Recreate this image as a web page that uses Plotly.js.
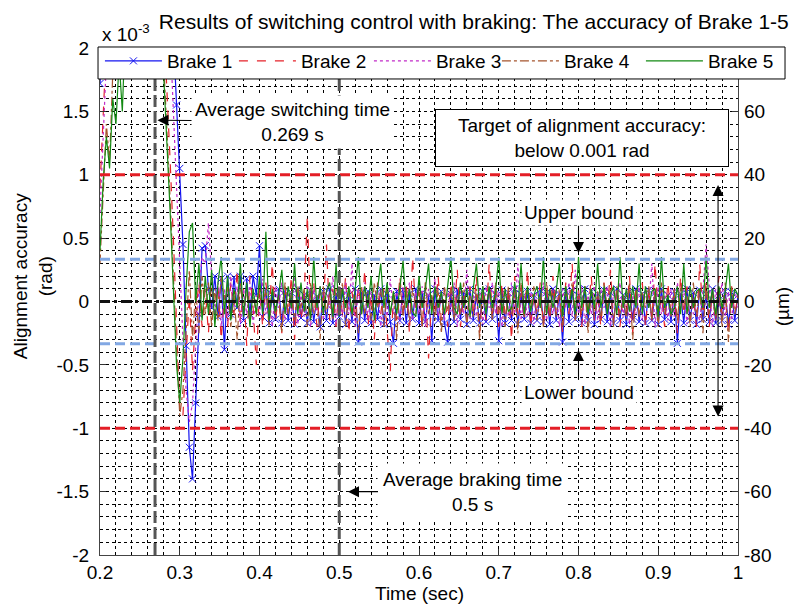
<!DOCTYPE html>
<html>
<head>
<meta charset="utf-8">
<script src="https://cdn.plot.ly/plotly-3.0.1.min.js"></script>
<style>html,body{margin:0;padding:0;background:#fff;}#chart{width:799px;height:608px;}</style>
</head>
<body>
<div id="chart"></div>
<script>
// ---------- data (alignment accuracy in units of 1e-3 rad) ----------
const startTime = 0.2;     // s
const sampleStep = 0.004;  // s
const seriesNames = ['Brake 1', 'Brake 2', 'Brake 3', 'Brake 4', 'Brake 5'];

const brake1 = [
  1.72, 2.3, 2.6, 2.7, 2.8, 2.8, 2.9, 2.9, 3.0, 3.0,
  3.0, 3.0, 2.9, 2.9, 2.9, 2.8, 2.8, 2.7, 2.7, 2.6,
  2.5, 2.4, 2.3, 2.1, 1.55, 1.05, 0.45, -0.35, -1.15, -1.4,
  -0.8, -0.1, 0.42, 0.44, 0.1, -0.05, 0.2, -0.12, 0.18, -0.38,
  0.2, -0.1, 0.19, -0.05, 0.2, -0.15, 0.18, -0.1, 0.2, 0.05,
  0.44, -0.12, 0.1, -0.17, 0.06, -0.14, 0.1, -0.17, 0.08, -0.15,
  0.07, -0.18, 0.1, -0.13, 0.05, -0.17, 0.09, -0.16, 0.04, -0.2,
  0.08, -0.15, 0.1, -0.17, 0.06, -0.12, 0.09, -0.18, 0.05, -0.16,
  0.1, -0.32, 0.07, -0.15, 0.08, -0.17, 0.05, -0.14, 0.1, -0.18,
  0.06, -0.16, -0.33, 0.08, -0.15, 0.09, -0.17, 0.06, -0.14, 0.1,
  -0.17, 0.07, -0.16, 0.05, -0.31, 0.1, -0.15, 0.08, -0.17, -0.32,
  0.06, -0.16, 0.09, -0.14, 0.07, -0.18, 0.1, -0.15, 0.05, -0.17,
  0.08, -0.16, 0.1, -0.14, 0.06, -0.31, 0.09, -0.17, 0.07, -0.15,
  0.1, -0.18, 0.06, -0.14, 0.08, -0.17, 0.05, -0.15, 0.09, -0.16,
  0.07, -0.18, 0.1, -0.15, 0.06, -0.32, 0.08, -0.16, 0.09, -0.14,
  0.05, -0.17, 0.1, -0.15, 0.08, -0.18, 0.06, -0.14, 0.09, -0.16,
  0.07, -0.17, 0.1, -0.15, 0.05, -0.18, 0.08, -0.14, 0.1, -0.16,
  0.06, -0.17, 0.09, -0.15, 0.07, -0.18, 0.1, -0.14, 0.05, -0.16,
  0.08, -0.33, 0.06, -0.17, 0.1, -0.15, 0.07, -0.18, 0.09, -0.14,
  0.06, -0.16, 0.1, -0.17, 0.05, -0.15, 0.08, -0.18, 0.07, -0.15,
  0.05
];
const brake2 = [
  0.9, 1.6, 2.3, 2.6, 2.8, 2.9, 3.0, 3.0, 3.1, 3.1,
  3.1, 3.0, 3.0, 2.9, 2.9, 2.8, 2.8, 2.7, 2.6, 2.5,
  2.2, 1.7, 1.1, 0.5, -0.2, -0.85, -0.9, -0.45, 0.05, -0.55,
  -0.1, 0.15, -0.2, 0.1, -0.25, 0.2, -0.1, 0.12, -0.3, 0.05,
  -0.2, 0.15, -0.1, 0.25, -0.15, 0.1, -0.35, 0.2, -0.05, -0.5,
  0.1, -0.2, 0.15, -0.1, 0.3, -0.15, 0.05, -0.25, 0.12, -0.1,
  0.2, -0.3, 0.1, -0.15, 0.05, 0.68, -0.1, 0.15, -0.2, 0.1,
  -0.05, 0.45, -0.15, 0.1, -0.2, 0.15, -0.1, 0.2, -0.25, 0.08,
  -0.15, 0.12, -0.1, 0.25, -0.2, 0.05, -0.3, 0.15, -0.1, 0.1,
  -0.2, -0.55, 0.1, -0.15, 0.2, -0.1, 0.15, -0.25, 0.35, -0.1,
  0.1, -0.2, 0.15, -0.45, 0.05, -0.1, 0.2, -0.15, 0.1, -0.2,
  0.15, -0.1, 0.25, -0.2, 0.05, -0.15, 0.12, -0.1, 0.2, -0.25,
  0.1, -0.15, 0.3, -0.1, 0.05, -0.2, 0.15, -0.1, 0.1, -0.3,
  0.2, -0.1, 0.12, -0.15, 0.25, -0.2, 0.05, -0.1, 0.15, -0.2,
  0.1, -0.15, 0.2, -0.1, 0.05, -0.25, 0.15, -0.1, 0.3, -0.15,
  0.1, -0.2, 0.12, -0.1, 0.2, -0.15, 0.05, -0.2, 0.15, -0.1,
  0.25, -0.15, 0.1, -0.2, 0.05, -0.1, 0.2, -0.25, 0.12, -0.1,
  0.15, -0.2, 0.1, -0.15, 0.3, -0.1, 0.05, -0.2, 0.15, -0.1,
  0.1, -0.25, 0.2, -0.1, 0.12, -0.15, 0.05, -0.2, 0.3, -0.1,
  0.15, -0.2, 0.1, -0.15, 0.2, -0.1, 0.05, -0.25, 0.12, -0.1,
  0.05
];
const brake3 = [
  0.7, 1.4, 2.1, 2.5, 2.7, 2.8, 2.9, 3.0, 3.0, 3.0,
  3.0, 3.0, 2.9, 2.9, 2.9, 2.8, 2.8, 2.7, 2.7, 2.6,
  2.5, 2.4, 2.1, 1.5, 0.9, 0.3, -0.3, -0.7, -0.95, -0.8,
  -0.3, 0.1, 0.35, 0.3, 0.62, 0.2, -0.1, 0.15, -0.2, 0.1,
  -0.15, 0.2, -0.05, 0.12, -0.2, 0.1, -0.1, 0.15, -0.18, 0.05,
  -0.12, 0.18, -0.1, 0.08, -0.2, 0.12, -0.05, 0.15, -0.15, 0.1,
  -0.1, 0.2, -0.18, 0.05, -0.12, 0.15, -0.2, 0.1, -0.08, 0.12,
  -0.15, 0.1, -0.05, 0.2, -0.18, 0.08, -0.12, 0.15, -0.1, 0.3,
  -0.2, 0.1, -0.05, 0.15, -0.15, 0.08, -0.1, 0.12, -0.2, 0.05,
  -0.12, 0.18, -0.1, 0.1, -0.18, 0.12, -0.05, 0.15, -0.15, 0.08,
  -0.1, 0.12, -0.2, 0.1, -0.05, 0.18, -0.12, 0.08, -0.15, 0.1,
  -0.08, 0.15, -0.2, 0.12, -0.1, 0.25, -0.15, 0.05, -0.12, 0.1,
  -0.18, 0.12, -0.05, 0.15, -0.1, 0.08, -0.2, 0.1, -0.12, 0.15,
  -0.1, 0.3, -0.15, 0.05, -0.12, 0.1, -0.18, 0.12, -0.05, 0.15,
  -0.15, 0.08, -0.1, 0.12, -0.2, 0.1, -0.05, 0.15, -0.12, 0.25,
  -0.1, 0.12, -0.18, 0.05, -0.1, 0.15, -0.15, 0.1, -0.05, 0.12,
  -0.2, 0.08, -0.1, 0.15, -0.12, 0.1, -0.18, 0.05, -0.1, 0.12,
  -0.15, 0.1, -0.05, 0.3, -0.2, 0.12, -0.1, 0.08, -0.15, 0.1,
  -0.12, 0.15, -0.05, 0.1, -0.18, 0.12, -0.1, -0.08, -0.15, 0.08,
  0.45, 0.12, -0.2, 0.1, -0.05, 0.15, -0.12, 0.08, -0.15, 0.1,
  -0.05
];
const brake4 = [
  0.3, 0.8, 1.4, 1.1, 1.8, 2.2, 2.6, 2.8, 2.9, 3.0,
  3.0, 3.0, 3.0, 2.9, 2.9, 2.8, 2.8, 2.7, 2.6, 2.4,
  1.9, 1.4, 0.8, 0.2, -0.4, -0.9, -0.7, -0.2, 0.25, -0.3,
  0.1, -0.25, 0.2, -0.1, 0.15, -0.2, 0.1, -0.15, 0.2, -0.05,
  0.12, -0.2, 0.05, -0.3, 0.15, -0.1, 0.1, -0.18, 0.08, -0.12,
  0.15, -0.05, 0.1, -0.2, 0.12, -0.1, 0.05, -0.25, 0.15, -0.1,
  0.08, -0.15, 0.12, -0.05, 0.1, -0.2, 0.15, -0.1, 0.05, -0.3,
  0.12, -0.1, 0.08, -0.15, 0.1, -0.05, 0.15, -0.2, 0.1, -0.12,
  0.05, -0.25, 0.12, -0.1, 0.08, -0.15, 0.15, -0.05, 0.1, -0.2,
  0.12, -0.1, 0.05, -0.3, 0.15, -0.12, 0.08, -0.15, 0.1, -0.05,
  0.12, -0.2, 0.15, -0.1, 0.05, -0.15, 0.1, -0.25, 0.12, -0.08,
  0.1, -0.15, 0.05, -0.1, 0.15, -0.2, 0.08, -0.12, 0.1, -0.3,
  0.12, -0.05, 0.1, -0.15, 0.15, -0.1, 0.05, -0.2, 0.12, -0.1,
  0.08, -0.25, 0.15, -0.12, 0.1, -0.05, 0.12, -0.15, 0.05, -0.2,
  0.15, -0.1, 0.08, -0.12, 0.1, -0.2, 0.12, -0.05, 0.15, -0.15,
  0.05, -0.1, 0.12, -0.25, 0.1, -0.12, 0.08, -0.15, 0.15, -0.05,
  0.1, -0.2, 0.12, -0.1, 0.05, -0.15, 0.15, -0.3, 0.1, -0.12,
  0.08, -0.05, 0.12, -0.15, 0.1, -0.2, 0.15, -0.1, 0.05, -0.12,
  0.1, -0.15, 0.12, -0.05, 0.08, -0.2, 0.15, -0.12, 0.1, -0.25,
  0.12, -0.1, 0.05, -0.15, 0.1, -0.2, 0.15, -0.32, 0.12, -0.1,
  0.05
];
const brake5 = [
  0.4, 0.95, 1.3, 1.05, 1.6, 1.4, 1.9, 1.5, 2.2, 2.6,
  2.8, 2.9, 3.0, 3.0, 2.9, 2.9, 2.8, 2.7, 2.6, 2.3,
  1.8, 1.3, 0.7, 0.1, -0.5, -0.8, -0.45, 0.1, 0.55, 0.62,
  0.0, 0.3, -0.15, 0.2, -0.1, 0.25, -0.2, 0.15, 0.35, -0.1,
  0.2, -0.15, 0.1, -0.05, 0.3, -0.12, 0.15, -0.2, 0.1, -0.1,
  0.2, -0.1, 0.55, -0.15, 0.1, -0.08, 0.05, 0.25, -0.1, 0.12,
  -0.05, 0.3, -0.1, 0.15, -0.08, 0.1, -0.15, 0.35, -0.05, 0.12,
  -0.1, 0.08, 0.15, -0.12, 0.3, -0.12, 0.1, -0.05, 0.12, -0.1,
  0.1, 0.35, -0.1, 0.12, -0.05, 0.2, -0.15, 0.1, 0.3, -0.05,
  0.15, -0.1, 0.08, -0.1, 0.12, 0.32, -0.05, 0.1, -0.08, -0.12,
  0.2, -0.05, 0.1, 0.3, -0.1, 0.12, -0.05, 0.08, -0.1, 0.12,
  0.35, -0.05, -0.1, 0.15, -0.05, 0.1, -0.12, 0.1, 0.3, -0.05,
  0.12, -0.1, 0.12, -0.05, 0.08, 0.35, -0.1, 0.1, -0.08, -0.05,
  0.15, -0.05, 0.3, -0.1, 0.12, -0.08, 0.05, 0.12, -0.05, 0.35,
  -0.1, 0.1, -0.05, 0.08, 0.3, -0.12, 0.12, -0.05, 0.1, -0.1,
  0.35, -0.05, 0.12, -0.1, 0.1, -0.05, 0.3, -0.05, 0.12, -0.1,
  0.05, 0.12, -0.1, 0.35, -0.05, 0.1, -0.08, 0.12, -0.05, 0.3,
  -0.1, 0.12, -0.05, 0.08, 0.1, -0.12, 0.35, -0.05, 0.05, -0.1,
  -0.05, 0.12, -0.1, 0.3, -0.1, 0.12, -0.05, 0.08, 0.1, -0.05,
  0.35, -0.05, 0.1, -0.1, 0.12, -0.05, 0.08, 0.3, -0.05, 0.1,
  0.05
];

// reference levels / times
const targetLimit = 1.0;      // 1e-3 rad  (= 40 um)
const boundLimit = 0.333;     // 1e-3 rad
const switchTime = 0.269;     // s
const brakeTime = 0.5;        // s

// tick labels
const xTickVals = [0.2, 0.3, 0.4, 0.5, 0.6, 0.7, 0.8, 0.9, 1.0];
const xTickText = ['0.2', '0.3', '0.4', '0.5', '0.6', '0.7', '0.8', '0.9', '1'];
const yTickVals = [-2, -1.5, -1, -0.5, 0, 0.5, 1, 1.5, 2];
const yTickText = ['-2', '-1.5', '-1', '-0.5', '0', '0.5', '1', '1.5', '2'];
const y2TickVals = [-80, -60, -40, -20, 0, 20, 40, 60];
const y2TickText = ['-80', '-60', '-40', '-20', '0', '20', '40', '60'];

// ---------- styling ----------
const FONT = '"Liberation Sans", Arial, Helvetica, sans-serif';
const colors = ['#1414f0', '#e5222a', '#c22bc8', '#a5552e', '#138a13'];
const dashes = ['solid', 'dash', 'dot', 'dashdot', 'solid'];
const legendWidths = [62, 63, 56, 72, 63];
const allSeries = [brake1, brake2, brake3, brake4, brake5];

const traces = allSeries.map((vals, k) => {
  const tr = {
    type: 'scatter',
    mode: k === 0 ? 'lines+markers' : 'lines',
    name: seriesNames[k],
    x0: startTime, dx: sampleStep,
    y: vals,
    line: {color: colors[k], width: 1.2, dash: dashes[k]},
    legendwidth: legendWidths[k],
    hoverinfo: 'skip'
  };
  if (k === 0) tr.marker = {symbol: 'x-thin', size: 7, line: {color: colors[k], width: 1}, color: colors[k]};
  return tr;
});
// right axis carrier (µm scale)
traces.push({type: 'scatter', x: [], y: [], yaxis: 'y2', showlegend: false, hoverinfo: 'skip'});

const gridDash = '3px,3px';
const shapes = [
  {type: 'line', xref: 'paper', x0: 0, x1: 1, yref: 'y', y0: targetLimit, y1: targetLimit, line: {color: '#e41e26', width: 3, dash: '10px,5px'}},
  {type: 'line', xref: 'paper', x0: 0, x1: 1, yref: 'y', y0: -targetLimit, y1: -targetLimit, line: {color: '#e41e26', width: 3, dash: '10px,5px'}},
  {type: 'line', xref: 'paper', x0: 0, x1: 1, yref: 'y', y0: boundLimit, y1: boundLimit, line: {color: '#82a8e4', width: 3, dash: '10px,5px'}},
  {type: 'line', xref: 'paper', x0: 0, x1: 1, yref: 'y', y0: -boundLimit, y1: -boundLimit, line: {color: '#82a8e4', width: 3, dash: '10px,5px'}},
  {type: 'line', xref: 'paper', x0: 0, x1: 1, yref: 'y', y0: 0, y1: 0, line: {color: '#111', width: 3, dash: '10px,4px,3px,4px'}},
  {type: 'line', xref: 'x', x0: switchTime, x1: switchTime, yref: 'paper', y0: 0, y1: 1, line: {color: '#555', width: 3, dash: '12px,4px'}},
  {type: 'line', xref: 'x', x0: brakeTime, x1: brakeTime, yref: 'paper', y0: 0, y1: 1, line: {color: '#555', width: 3, dash: '12px,4px'}},
  // legend frame
  {type: 'rect', xref: 'paper', yref: 'paper', x0: -0.0031, x1: 1.0737, y0: 0.9389, y1: 1.002, fillcolor: '#fff', line: {color: '#000', width: 1}, layer: 'above'}
];

const annFont = {family: FONT, size: 19, color: '#000'};
const arrowStyle = {showarrow: true, arrowhead: 2, arrowsize: 2, arrowwidth: 1.1, arrowcolor: '#000', xref: 'x', yref: 'y', axref: 'x', ayref: 'y'};
const annotations = [
  {xref: 'paper', yref: 'paper', x: 0, y: 1.03, xanchor: 'left', yanchor: 'middle', showarrow: false, text: 'x 10<sup>-3</sup>', font: {family: FONT, size: 19}},
  {xref: 'paper', yref: 'paper', x: -0.105, y: 0.55, xanchor: 'center', yanchor: 'middle', textangle: -90, showarrow: false, text: 'Alignment accuracy<br>(rad)', font: annFont},
  {xref: 'paper', yref: 'paper', x: 1.07, y: 0.49, xanchor: 'center', yanchor: 'middle', textangle: -90, showarrow: false, text: '(µm)', font: annFont},
  {xref: 'paper', yref: 'paper', x: 0.5, y: -0.075, xanchor: 'center', yanchor: 'middle', showarrow: false, text: 'Time (sec)', font: annFont},
  Object.assign({}, arrowStyle, {x: switchTime + 0.003, y: 1.43, ax: 0.4414, ay: 1.42, text: 'Average switching time<br>0.269 s', bgcolor: '#fff', font: annFont, borderpad: 3}),
  {xref: 'x', yref: 'y', x: 0.8044, y: 1.29, showarrow: false, text: 'Target of alignment accuracy:<br>below 0.001 rad', bgcolor: '#fff', bordercolor: '#000', borderwidth: 1, width: 290, height: 54, borderpad: 1, font: annFont},
  Object.assign({}, arrowStyle, {x: 0.8, y: boundLimit + 0.05, ax: 0.8, ay: 0.70, text: 'Upper bound', bgcolor: '#fff', font: annFont, borderpad: 2}),
  Object.assign({}, arrowStyle, {x: 0.8, y: -boundLimit - 0.05, ax: 0.8, ay: -0.72, text: 'Lower bound', bgcolor: '#fff', font: annFont, borderpad: 2}),
  Object.assign({}, arrowStyle, {x: 0.975, y: targetLimit - 0.08, ax: 0.975, ay: -targetLimit + 0.08, text: '', font: {size: 1}, arrowside: 'end+start', startarrowhead: 2, startarrowsize: 2}),
  Object.assign({}, arrowStyle, {x: brakeTime + 0.011, y: -1.5, ax: 0.6677, ay: -1.5, text: 'Average braking time<br>0.5 s', bgcolor: '#fff', font: annFont, borderpad: 5})
];

const layout = {
  width: 799, height: 608,
  margin: {l: 100, r: 61, t: 48, b: 53, pad: 0, autoexpand: false},
  paper_bgcolor: '#fff', plot_bgcolor: '#fff',
  font: {family: FONT, size: 19, color: '#000'},
  title: {text: 'Results of switching control with braking: The accuracy of Brake 1-5', x: 0.593, xanchor: 'center', y: 0.964, yanchor: 'middle', font: {family: FONT, size: 21, color: '#000'}},
  showlegend: true,
  legend: {orientation: 'h', x: -0.0001, xanchor: 'left', y: 1.0118, yanchor: 'top', bgcolor: 'rgba(0,0,0,0)', borderwidth: 0, font: {family: FONT, size: 19}, itemwidth: 57, traceorder: 'normal'},
  xaxis: {
    range: [0.2, 1.0], tickmode: 'array', tickvals: xTickVals, ticktext: xTickText,
    ticks: 'inside', ticklen: 6, tickcolor: '#333', showline: true, linecolor: '#444', linewidth: 1, mirror: true,
    showgrid: true, gridcolor: '#000', griddash: gridDash, gridwidth: 1, zeroline: false,
    minor: {tickmode: 'linear', tick0: 0.2, dtick: 0.02, showgrid: true, gridcolor: '#000', griddash: gridDash, gridwidth: 1, ticks: ''}
  },
  yaxis: {
    range: [-2, 2], tickmode: 'array', tickvals: yTickVals, ticktext: yTickText,
    ticks: 'inside', ticklen: 6, tickcolor: '#333', showline: true, linecolor: '#444', linewidth: 1, mirror: true,
    showgrid: true, gridcolor: '#000', griddash: gridDash, gridwidth: 1, zeroline: false, ticklabelstandoff: 6,
    minor: {tickmode: 'linear', tick0: 0, dtick: 0.1, showgrid: true, gridcolor: '#000', griddash: gridDash, gridwidth: 1, ticks: ''}
  },
  yaxis2: {
    overlaying: 'y', side: 'right', range: [-80, 80], tickmode: 'array', tickvals: y2TickVals, ticktext: y2TickText,
    ticks: 'inside', ticklen: 6, tickcolor: '#333', showgrid: false, zeroline: false, showline: false, ticklabelstandoff: 5
  },
  shapes: shapes,
  annotations: annotations
};

Plotly.newPlot('chart', traces, layout, {staticPlot: true, displayModeBar: false});
</script>
</body>
</html>
